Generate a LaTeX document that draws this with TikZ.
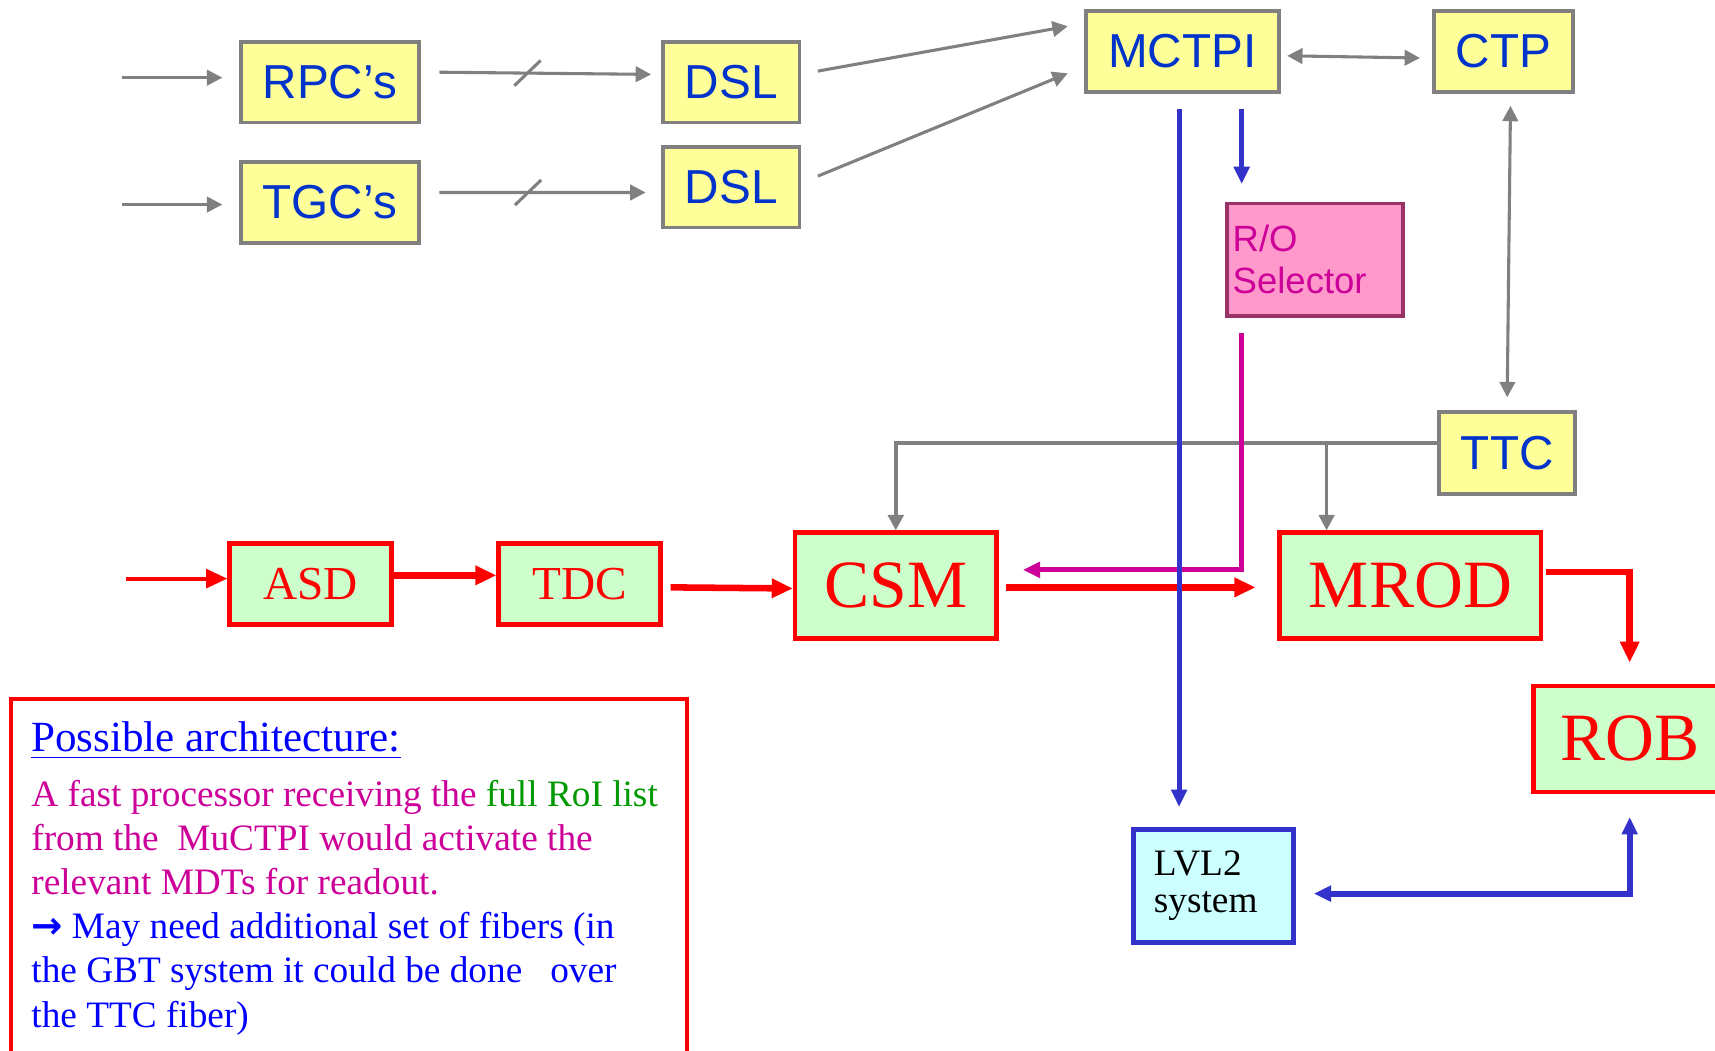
\documentclass[tikz,border=0pt]{standalone}
\usepackage{fontspec}
\setmainfont{Liberation Serif}
\setsansfont{Liberation Sans}
\newfontfamily\arrowfont{DejaVu Sans}
\usetikzlibrary{arrows.meta,calc}

\definecolor{boxyellow}{HTML}{FFFF99}
\definecolor{boxgreen}{HTML}{CCFFCC}
\definecolor{boxpink}{HTML}{FF99CC}
\definecolor{boxcyan}{HTML}{CCFFFF}
\definecolor{linegray}{HTML}{808080}
\definecolor{txtblue}{HTML}{0033CC}
\definecolor{lineblue}{HTML}{3333CC}
\definecolor{plum}{HTML}{993366}
\definecolor{txtmag}{HTML}{CC0099}
\definecolor{txtgreen}{HTML}{009900}
\definecolor{notblue}{HTML}{0000FF}

\tikzset{
  ybox/.style={draw=linegray, line width=1pt, fill=boxyellow, text=txtblue, inner sep=0pt,
    font=\sffamily\fontsize{12.4}{14}\selectfont},
  gbox/.style={draw=red, line width=1.2pt, fill=boxgreen, text=red, inner sep=0pt},
  gline/.style={draw=linegray, line width=0.8pt},
  garrow/.style={gline, -{Triangle[length=4pt,width=4pt]}},
  gdarrow/.style={gline, {Triangle[length=4pt,width=4pt]}-{Triangle[length=4pt,width=4pt]}},
  rarrow/.style={draw=red, line width=1.7pt, -{Triangle[length=5.5pt,width=4.8pt]}},
  barrow/.style={draw=lineblue, line width=1.3pt, -{Triangle[length=4.5pt,width=4pt]}},
}

\begin{document}
\begin{tikzpicture}[line join=miter]
  \useasboundingbox (0,0) rectangle (15.68,-9.60);

  % trigger side
  \node[ybox, minimum width=1.63cm, minimum height=0.74cm] (rpc) at (3.015,-0.75) {RPC’s};
  \node[ybox, minimum width=1.63cm, minimum height=0.74cm] (tgc) at (3.015,-1.85) {TGC’s};
  \node[ybox, minimum width=1.25cm, minimum height=0.74cm] (dsla) at (6.685,-0.75) {DSL};
  \node[ybox, minimum width=1.25cm, minimum height=0.74cm] (dslb) at (6.685,-1.71) {DSL};
  \node[ybox, minimum width=1.76cm, minimum height=0.74cm] (mctpi) at (10.81,-0.47) {MCTPI};
  \node[ybox, minimum width=1.27cm, minimum height=0.74cm] (ctp) at (13.745,-0.47) {CTP};
  \node[ybox, minimum width=1.24cm, minimum height=0.75cm] (ttc) at (13.78,-4.145) {TTC};
  \node[draw=plum, line width=1pt, fill=boxpink, text=txtmag, inner xsep=0.05cm, inner ysep=0pt,
    text width=1.51cm, align=left, minimum height=1.03cm,
    font=\sffamily\fontsize{9.5}{10.9}\selectfont] (ro) at (12.025,-2.375) {R/O\\Selector};

  % readout chain
  \node[gbox, minimum width=1.48cm, minimum height=0.74cm, font=\fontsize{12.3}{14}\selectfont] (asd) at (2.84,-5.34) {ASD};
  \node[gbox, minimum width=1.48cm, minimum height=0.74cm, font=\fontsize{12.3}{14}\selectfont] (tdc) at (5.30,-5.34) {TDC};
  \node[gbox, minimum width=1.84cm, minimum height=0.97cm, font=\fontsize{17.6}{20}\selectfont] (csm) at (8.19,-5.355) {CSM};
  \node[gbox, minimum width=2.39cm, minimum height=0.97cm, font=\fontsize{17.6}{20}\selectfont] (mrod) at (12.895,-5.355) {MROD};
  \node[gbox, minimum width=1.76cm, minimum height=0.97cm, font=\fontsize{17.6}{20}\selectfont] (rob) at (14.90,-6.755) {ROB};
  \node[draw=lineblue, line width=1.3pt, fill=boxcyan, inner xsep=0.19cm, inner ysep=0pt,
    text width=1.09cm, align=left, minimum height=1.04cm,
    font=\fontsize{9.7}{9.6}\selectfont] (lvl2) at (11.095,-8.10) {LVL2\\system};

  % gray links
  \draw[garrow] ([shift={(-1.07,0.04)}]rpc.west) -- ([shift={(-0.15,0.04)}]rpc.west);
  \draw[garrow] ([shift={(-1.07,-0.02)}]tgc.west) -- ([shift={(-0.15,-0.02)}]tgc.west);
  \draw[garrow] ([shift={(0.17,0.09)}]rpc.east) -- coordinate[pos=0.416] (tka) ([shift={(-0.09,0.07)}]dsla.west);
  \draw[garrow] ([shift={(0.17,0.09)}]tgc.east) -- coordinate[pos=0.43] (tkb) ([shift={(-0.14,-0.05)}]dslb.west);
  \draw[gline] ($(tka)+(-0.12,-0.115)$) -- ($(tka)+(0.12,0.115)$);
  \draw[gline] ($(tkb)+(-0.12,-0.115)$) -- ($(tkb)+(0.12,0.115)$);
  \draw[garrow] ([shift={(0.15,0.10)}]dsla.east) -- ([shift={(-0.15,0.23)}]mctpi.west);
  \draw[garrow] ([shift={(0.15,0.10)}]dslb.east) -- ([shift={(-0.15,-0.20)}]mctpi.west);
  \draw[gdarrow] ([shift={(0.06,-0.04)}]mctpi.east) -- ([shift={(-0.11,-0.06)}]ctp.west);
  \draw[gdarrow] ([shift={(0.065,-0.11)}]ctp.south) -- ([yshift=0.12cm]ttc.north);
  \coordinate (ttcl) at ([yshift=0.095cm]ttc.west);
  \coordinate (mrodin) at ([xshift=0.45cm]mrod.north west);
  \draw[garrow, line width=1pt] (ttcl) -| (csm.north);
  \draw[garrow] (ttcl -| mrodin) -- (mrodin);

  % red data path
  \draw[rarrow, line width=1.1pt] ([shift={(-0.93,0.05)}]asd.west) -- ([yshift=0.05cm]asd.west);
  \draw[rarrow] ([yshift=0.08cm]asd.east) -- ([yshift=0.08cm]tdc.west);
  \draw[rarrow] ([shift={(0.07,-0.03)}]tdc.east) -- ([yshift=-0.025cm]csm.west);
  \draw[rarrow] ([shift={(0.07,-0.015)}]csm.east) -- ([shift={(-0.2,-0.015)}]mrod.west);
  \draw[rarrow] ([shift={(0.02,0.125)}]mrod.east) -| ([yshift=0.19cm]rob.north);

  % R/O selector feedback
  \draw[draw=txtmag, line width=1.3pt, -{Triangle[length=4.5pt,width=4pt]}]
    ([shift={(0.15,-0.14)}]ro.south west) |- ([shift={(0.22,0.145)}]csm.east);

  % blue links
  \coordinate (roin) at ([shift={(0.15,0.16)}]ro.north west);
  \coordinate (mcout) at ([yshift=-0.14cm]mctpi.south);
  \draw[barrow] (roin |- mcout) -- (roin);
  \draw[barrow] ([xshift=-0.03cm]mcout) -- ([shift={(-0.315,0.18)}]lvl2.north);
  \draw[barrow, line width=1.6pt, {Triangle[length=4.5pt,width=4pt]}-{Triangle[length=4.5pt,width=4pt]}]
    ([shift={(0.16,-0.07)}]lvl2.east) -| ([yshift=-0.21cm]rob.south);

  % note
  \draw[red, line width=1.1pt] (0.10,-6.39) rectangle (6.28,-9.75);
  \node[anchor=base west, inner sep=0pt, text=notblue, font=\fontsize{11.2}{13}\selectfont] (head) at (0.28,-6.87)
    {\underline{Possible architecture:}};
  \node[anchor=base west, inner sep=0pt, align=left, font=\fontsize{9.7}{11.5}\selectfont] (body) at (0.28,-9.39)
    {\textcolor{txtmag}{A fast processor receiving the }\textcolor{txtgreen}{full RoI list}\\
     \textcolor{txtmag}{from the\ \ MuCTPI would activate the}\\
     \textcolor{txtmag}{relevant MDTs for readout.}\\
     \textcolor{notblue}{{\arrowfont\bfseries →} May need additional set of fibers (in}\\
     \textcolor{notblue}{the GBT system it could be done\ \ \ over}\\
     \textcolor{notblue}{the TTC fiber)}};
\end{tikzpicture}
\end{document}
